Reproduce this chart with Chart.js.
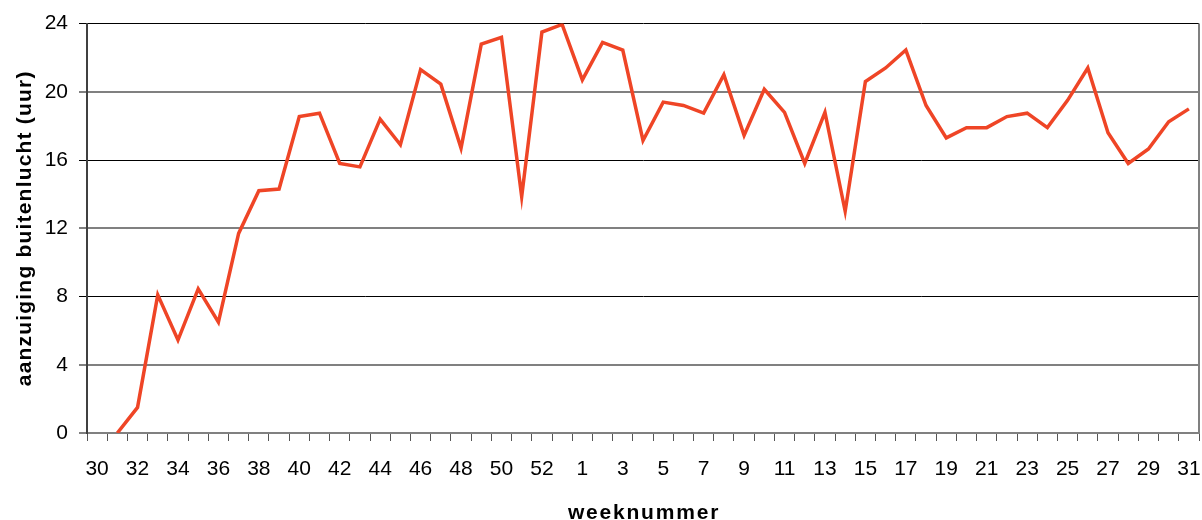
<!DOCTYPE html>
<html>
<head>
<meta charset="utf-8">
<script src="https://cdn.jsdelivr.net/npm/chart.js@4/dist/chart.umd.min.js"></script>
<style>
  body { margin: 0; background: #fff; }
  .chart-box { width: 1202px; height: 520px; }
</style>
</head>
<body>
<div class="chart-box"><canvas id="myChart"></canvas></div>
<script>
// weeks 30..53 of the first year, then 1..31
const weeks = [
  "30", "31", "32", "33", "34", "35", "36", "37", "38", "39", "40", "41",
  "42", "43", "44", "45", "46", "47", "48", "49", "50", "51", "52", "53",
  "1", "2", "3", "4", "5", "6", "7", "8", "9", "10", "11", "12", "13", "14",
  "15", "16", "17", "18", "19", "20", "21", "22", "23", "24", "25", "26",
  "27", "28", "29", "30", "31",
]

// hours of outside air intake per week
const hours = [
  null, 0, 1.5, 8.1, 5.45, 8.45, 6.5, 11.7, 14.2, 14.3, 18.55, 18.75,
  15.8, 15.6, 18.4, 16.9, 21.3, 20.45, 16.7, 22.8, 23.2, 13.85, 23.5, 23.95,
  20.7, 22.9, 22.45, 17.15, 19.4, 19.2, 18.75, 21.0, 17.45, 20.15, 18.8, 15.8, 18.8, 13.0,
  20.6, 21.4, 22.45, 19.2, 17.3, 17.9, 17.9, 18.55, 18.75, 17.9, 19.5, 21.4,
  17.6, 15.8, 16.65, 18.25, 19.0,
]

const yTicks = [0, 4, 8, 12, 16, 20, 24]

const fontFamily = '"Liberation Sans", Arial, sans-serif'

// axis titles are drawn by hand so they can get letter spacing
const axisTitles = {
  id: "axisTitles",
  afterDraw(chart) {
    const { ctx, chartArea } = chart
    ctx.save()
    // right border of the plot area
    ctx.strokeStyle = "#808080"
    ctx.lineWidth = 2
    ctx.beginPath()
    ctx.moveTo(chartArea.right, chartArea.top)
    ctx.lineTo(chartArea.right, chartArea.bottom)
    ctx.stroke()

    ctx.fillStyle = "#000"
    ctx.textAlign = "center"
    ctx.textBaseline = "alphabetic"

    ctx.font = "bold 21px " + fontFamily
    ctx.letterSpacing = "1.8px"
    ctx.fillText("weeknummer", (chartArea.left + chartArea.right) / 2 + 1, chart.height - 1)

    ctx.font = "bold 21px " + fontFamily
    ctx.letterSpacing = "1.2px"
    ctx.translate(31, (chartArea.top + chartArea.bottom) / 2)
    ctx.rotate(-Math.PI / 2)
    ctx.fillText("aanzuiging buitenlucht (uur)", 0, 0)
    ctx.restore()
  },
}

const ctx = document.getElementById("myChart").getContext("2d")
const myChart = new Chart(ctx, {
  type: "line",
  data: {
    labels: weeks,
    datasets: [
      {
        data: hours,
        borderColor: "#ef4526",
        borderWidth: 3.5,
        pointRadius: 0,
        tension: 0,
        fill: false,
      },
    ],
  },
  options: {
    responsive: true,
    maintainAspectRatio: false,
    animation: false,
    layout: {
      padding: { top: 22, right: 3, left: 0, bottom: 0 },
    },
    plugins: {
      legend: { display: false },
      tooltip: { enabled: false },
    },
    scales: {
      x: {
        offset: true,
        afterFit: (scale) => {
          scale.height = 87
          scale.paddingLeft = 0
          scale.paddingRight = 0
        },
        grid: {
          offset: true,
          drawOnChartArea: false,
          drawTicks: true,
          tickLength: 8,
          color: "#555",
        },
        border: { color: "#808080", width: 2 },
        ticks: {
          autoSkip: false,
          maxRotation: 0,
          minRotation: 0,
          padding: 16,
          color: "#000",
          font: { family: fontFamily, size: 21 },
          callback: (value, index) => (index % 2 === 0 ? weeks[index] : ""),
        },
      },
      y: {
        min: 0,
        max: 24,
        afterFit: (scale) => {
          scale.width = 87
        },
        afterBuildTicks: (scale) => {
          scale.ticks = yTicks.map((v) => ({ value: v }))
        },
        grid: {
          drawTicks: true,
          tickLength: 8,
          color: (c) => (c.tick && c.tick.value % 8 === 0 && c.tick.value > 0 ? "#000" : "#808080"),
          lineWidth: (c) => (c.tick && c.tick.value % 8 === 0 && c.tick.value > 0 ? 1 : 2),
        },
        border: { color: "#404040", width: 2 },
        ticks: {
          padding: 11,
          color: "#000",
          font: { family: fontFamily, size: 21 },
        },
      },
    },
  },
  plugins: [axisTitles],
})
</script>
</body>
</html>
